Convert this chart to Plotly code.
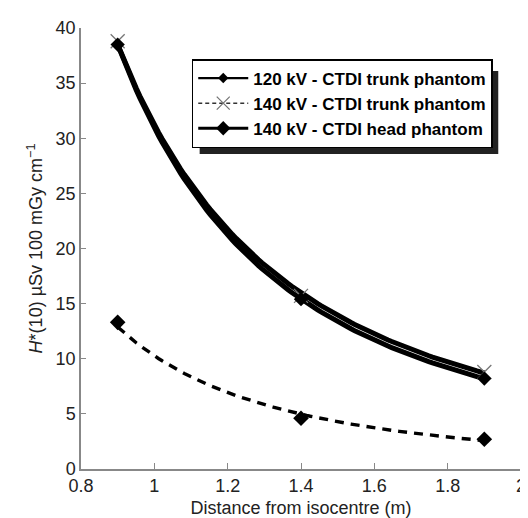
import numpy as np
import plotly.graph_objects as go

distance = [0.9, 1.4, 1.9]
kv120_trunk = [38.5, 15.4, 8.2]
kv140_trunk = [38.8, 15.7, 8.8]
kv140_head = [13.3, 4.6, 2.7]
series_names = ["120 kV - CTDI trunk phantom", "140 kV - CTDI trunk phantom", "140 kV - CTDI head phantom"]
x_ticks = [0.8, 1, 1.2, 1.4, 1.6, 1.8, 2]
y_ticks = [0, 5, 10, 15, 20, 25, 30, 35, 40]


def power_fit(xs, ys):
    # Excel-style power trendline, least squares in log space
    b, lna = np.polyfit(np.log(xs), np.log(ys), 1)
    xx = np.linspace(min(xs), max(xs), 100)
    return xx, np.exp(lna) * xx ** b


fig = go.Figure()

# trendlines
for ys, dash in [(kv120_trunk, "solid"), (kv140_trunk, "solid"), (kv140_head, "9px,7px")]:
    xx, yy = power_fit(distance, ys)
    fig.add_trace(go.Scatter(x=xx, y=yy, mode="lines", showlegend=False, hoverinfo="skip",
                             line=dict(color="black", width=5 if dash == "solid" else 3.4, dash=dash)))

# data markers
fig.add_trace(go.Scatter(x=distance, y=kv140_trunk, mode="markers", showlegend=False,
                         marker=dict(symbol="x-thin-open", size=14, color="#777", line=dict(color="#777", width=1.3))))
fig.add_trace(go.Scatter(x=distance, y=kv120_trunk, mode="markers", showlegend=False,
                         marker=dict(symbol="diamond", size=11, color="black")))
fig.add_trace(go.Scatter(x=distance, y=kv140_head, mode="markers", showlegend=False,
                         marker=dict(symbol="diamond", size=12, color="black")))

# legend entries
fig.add_trace(go.Scatter(x=[None], y=[None], mode="lines+markers", name=series_names[0], legendgroup="a",
                         line=dict(color="black", width=2.2), marker=dict(symbol="diamond", size=8, color="black")))
fig.add_trace(go.Scatter(x=[None], y=[None], mode="lines+markers", name=series_names[1], legendgroup="b",
                         line=dict(color="#333", width=1.5, dash="4px,3px"),
                         marker=dict(symbol="x-thin-open", size=13, color="#777", line=dict(color="#777", width=1.3))))
fig.add_trace(go.Scatter(x=[None], y=[None], mode="lines+markers", name=series_names[2], legendgroup="c",
                         line=dict(color="black", width=3.2), marker=dict(symbol="diamond", size=11, color="black")))

FONT = "Liberation Sans, Arial, sans-serif"
axis_font = dict(family=FONT, size=18, color="#222")

L, T = 73, 20
W, H = 445, 441
def px(x):
    return (x - L) / W
def py(y):
    return (T + H - y) / H

# legend drop shadow (Excel-style), just behind the legend box
fig.add_shape(type="rect", xref="paper", yref="paper", x0=px(193), x1=px(495), y0=py(146), y1=py(63),
              fillcolor="#222", line=dict(width=0), layer="above")

fig.update_layout(
    width=528, height=518,
    margin=dict(l=L, r=528 - L - W, t=T, b=518 - T - H),
    paper_bgcolor="white", plot_bgcolor="white",
    showlegend=True,
    legend=dict(x=px(185), y=py(51), xanchor="left", yanchor="top",
                bgcolor="white", bordercolor="black", borderwidth=1.5,
                font=dict(family=FONT, size=17, color="black", weight="bold"),
                traceorder="grouped", tracegroupgap=0, itemwidth=50),
    xaxis=dict(range=[0.8, 2], tickvals=x_ticks, ticktext=[str(v) for v in x_ticks],
               showgrid=False, zeroline=False, showline=True, linecolor="#888", linewidth=1.5,
               ticks="inside", ticklen=6, tickcolor="#888", tickfont=axis_font, ticklabeloverflow="allow",
               title=dict(text="Distance from isocentre (m)", font=dict(family=FONT, size=18, color="#222"), standoff=6)),
    yaxis=dict(range=[0, 40], tickvals=y_ticks, showgrid=False, zeroline=False, showline=True,
               linecolor="#888", linewidth=1.5, ticks="inside", ticklen=5, tickcolor="#888", tickfont=axis_font,
               title=dict(text="<i>H</i>*(10) µSv 100 mGy cm<sup>−1</sup>", font=dict(family=FONT, size=18, color="#222"), standoff=8)),
)

fig.write_html("out.html")
